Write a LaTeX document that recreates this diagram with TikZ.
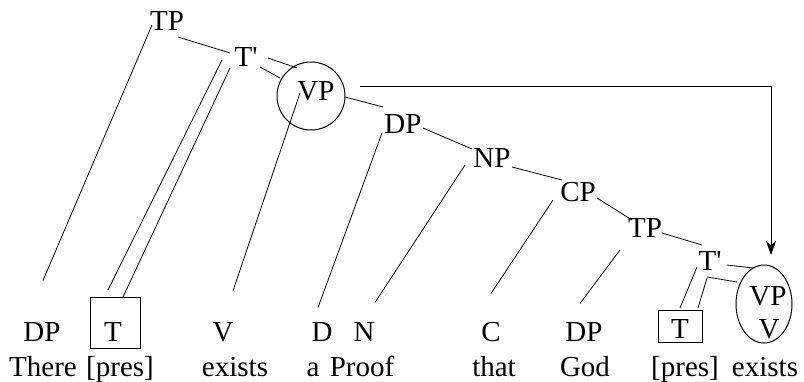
\documentclass[tikz,border=0pt]{standalone}
\usepackage{fontspec}
\setmainfont{Liberation Serif}[Ligatures=TeXOff]
\usetikzlibrary{calc,shapes.geometric,arrows.meta}
\begin{document}
\begin{tikzpicture}[x=1pt,y=-1pt,
  font=\fontsize{29}{32}\selectfont,
  lab/.style={inner sep=1pt},
  bl/.style={inner sep=1pt, anchor=base},
  br/.style={line width=0.8pt, black},
  boxn/.style={draw, line width=1pt, inner sep=0pt},
]
\useasboundingbox (0,0) rectangle (804,381);
% upper tree nodes
\node[lab] (TP) at (167,21) {TP};
\node[lab] (Tb1) at (246,57) {T'};
\node[draw, circle, line width=1pt, minimum size=68pt, inner sep=0pt] (VPc) at (311,96) {};
\node[lab] (VP1) at (316,91) {VP};
\node[lab] (DP2) at (403,124) {DP};
\node[lab] (NP) at (492,158) {NP};
\node[lab] (CP) at (578,192) {CP};
\node[lab] (TP2) at (645,228) {TP};
\node[lab] (Tb2) at (710,261) {T'};
\node[draw, ellipse, line width=1pt, minimum width=56pt, minimum height=78pt, inner sep=0pt] (E) at (764,304) {};
\node[bl] (VP2) at (768,305) {VP};
\node[bl] (V2) at (769,338) {V};
% bottom row
\node[bl] (DPa) at (42,341) {DP};
\node[boxn, minimum width=50pt, minimum height=51pt] (Boxa) at (115,322.5) {};
\node[bl] (Ta) at (113,341) {T};
\node[bl] (Va) at (223,341) {V};
\node[bl] (Da) at (322,341) {D};
\node[bl] (Na) at (364,341) {N};
\node[bl] (Ca) at (491,341) {C};
\node[bl] (DPb) at (584,341) {DP};
\node[boxn, minimum width=44pt, minimum height=32pt] (Boxc) at (680,326) {};
\node[bl] (Tc) at (680,338) {T};
% words
\node[bl] (w1) at (43,376) {There};
\node[bl] (w2) at (120,376) {[pres]};
\node[bl] (w3) at (235,376) {exists};
\node[bl] (w4) at (313,376) {a};
\node[bl] (w5) at (362,376) {Proof};
\node[bl] (w6) at (494,376) {that};
\node[bl] (w7) at (585,376) {God};
\node[bl] (w8) at (685,376) {[pres]};
\node[bl] (w9) at (765,376) {exists};
% branches
\draw[br] ($(TP)+(-15,4)$) -- ($(DPa)+(1,-51)$);
\draw[br] ($(TP)+(11,16)$) -- ($(Tb1)+(-16,-4)$);
\draw[br] ($(Tb1)+(-24,3)$) -- ($(Boxa)+(-7,-32.5)$);
\draw[br] ($(Tb1)+(-16,11)$) -- ($(Boxa)+(8,-25.5)$);
\draw[br] ($(Tb1)+(22,1)$) -- ($(VPc)+(-14,-28)$);
\draw[br] ($(Tb1)+(14,10)$) -- ($(VPc)+(-31,-18)$);
\draw[br] ($(VPc)+(-11,-3)$) -- ($(Va)+(10,-41)$);
\draw[br] ($(VPc)+(34,1)$) -- ($(DP2)+(-20,-17)$);
\draw[line width=1pt, -{Stealth[length=14pt,width=10pt]}] ($(VPc)+(49,-10)$) -| ($(E)+(7,-49)$);
\draw[br] ($(DP2)+(-21,9)$) -- ($(Da)+(-4,-24)$);
\draw[br] ($(DP2)+(20,4)$) -- ($(NP)+(-20,-9)$);
\draw[br] ($(NP)+(-27,7)$) -- ($(Na)+(11,-29)$);
\draw[br] ($(NP)+(20,9)$) -- ($(CP)+(-16,-12)$);
\draw[br] ($(CP)+(-25,8)$) -- ($(Ca)+(0,-38)$);
\draw[br] ($(CP)+(19,6)$) -- ($(TP2)+(-13,-8)$);
\draw[br] ($(TP2)+(-25,22)$) -- ($(DPb)+(-4,-28)$);
\draw[br] ($(TP2)+(17,5)$) -- ($(Tb2)+(-8,-16)$);
\draw[br] ($(Tb2)+(-13,6)$) -- ($(Boxc)+(0,-18)$);
\draw[br] ($(Tb2)+(-3,17)$) -- ($(Boxc)+(18,-18)$);
\draw[br] ($(Tb2)+(17,4)$) -- ($(E)+(-11,-36)$);
\draw[br] ($(Tb2)+(-3,16)$) -- ($(E)+(-27,-22)$);
\end{tikzpicture}
\end{document}
